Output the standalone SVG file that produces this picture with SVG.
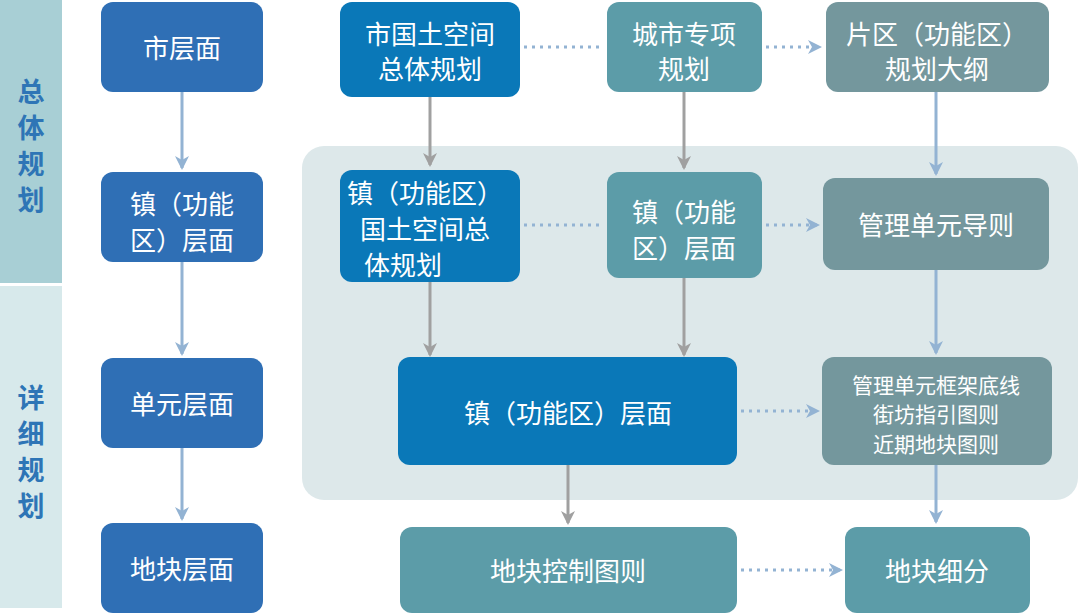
<svg xmlns="http://www.w3.org/2000/svg" width="1080" height="616" viewBox="0 0 1080 616">
<style>
text{font-family:"Noto Sans CJK SC","Noto Sans",sans-serif;fill:#fff;font-size:26px;text-anchor:middle}
.side{fill:#2e75b6;font-size:27px;font-weight:bold}
.b{fill:#2f6fb5}.c{fill:#0a78b8}.t{fill:#5c9ca8}.g{fill:#74979d}
.ga{stroke:#a0a0a0;stroke-width:3;fill:none}
.la{stroke:#93b3d3;stroke-width:3;fill:none}
.d{stroke:#93b3d3;stroke-width:3;stroke-dasharray:3 5;fill:none}
</style>
<defs>
<marker id="ml" markerWidth="14" markerHeight="14" refX="12" refY="7" orient="auto" markerUnits="userSpaceOnUse"><path d="M0,0L14,7L0,14L4,7Z" fill="#93b3d3"/></marker>
<marker id="mgg" markerWidth="14" markerHeight="14" refX="12" refY="7" orient="auto" markerUnits="userSpaceOnUse"><path d="M0,0L14,7L0,14L4,7Z" fill="#a0a0a0"/></marker>
</defs>
<rect width="1080" height="616" fill="#fff"/>
<g id="sidebar">
<rect x="0" y="0" width="62" height="283" fill="#a8cfd5"/>
<rect x="0" y="286" width="62" height="322" fill="#d7e9eb"/>
<text class="side" x="31" y="102">总</text><text class="side" x="31" y="138">体</text><text class="side" x="31" y="174">规</text><text class="side" x="31" y="210">划</text>
<text class="side" x="31" y="408">详</text><text class="side" x="31" y="444">细</text><text class="side" x="31" y="480">规</text><text class="side" x="31" y="516">划</text>
</g>
<rect id="panel" x="302" y="146" width="776" height="354" rx="22" fill="#dde8ea"/>
<g id="connectors">
<path class="la" d="M182 92V168" marker-end="url(#ml)"/>
<path class="la" d="M182 262V354" marker-end="url(#ml)"/>
<path class="la" d="M182 448V519" marker-end="url(#ml)"/>
<path class="ga" d="M430 97V165" marker-end="url(#mgg)"/>
<path class="ga" d="M684 92V168" marker-end="url(#mgg)"/>
<path class="ga" d="M430 282V355" marker-end="url(#mgg)"/>
<path class="ga" d="M684 278V355" marker-end="url(#mgg)"/>
<path class="ga" d="M568 465V523" marker-end="url(#mgg)"/>
<path class="la" d="M936 92V174" marker-end="url(#ml)"/>
<path class="la" d="M936 270V353" marker-end="url(#ml)"/>
<path class="la" d="M936 465V522" marker-end="url(#ml)"/>
<path class="d" d="M524 47H604"/>
<path class="d" d="M766 47H820" marker-end="url(#ml)"/>
<path class="d" d="M524 225H604"/>
<path class="d" d="M766 225H818" marker-end="url(#ml)"/>
<path class="d" d="M741 411H818" marker-end="url(#ml)"/>
<path class="d" d="M741 570H841" marker-end="url(#ml)"/>
</g>
<g id="n1"><rect class="b" x="101" y="2" width="162" height="90" rx="12"/><text x="182" y="58">市层面</text></g>
<g id="n2"><rect class="b" x="101" y="172" width="162" height="90" rx="12"/><text x="182" y="214">镇（功能</text><text x="182" y="250">区）层面</text></g>
<g id="n3"><rect class="b" x="101" y="358" width="162" height="90" rx="12"/><text x="182" y="414">单元层面</text></g>
<g id="n4"><rect class="b" x="101" y="523" width="162" height="90" rx="12"/><text x="182" y="579">地块层面</text></g>
<g id="n5"><rect class="c" x="340" y="2" width="180" height="95" rx="12"/><text x="430" y="44">市国土空间</text><text x="430" y="79">总体规划</text></g>
<g id="n6"><rect class="t" x="607" y="2" width="155" height="90" rx="12"/><text x="684" y="44">城市专项</text><text x="684" y="79">规划</text></g>
<g id="n7"><rect class="g" x="826" y="2" width="223" height="90" rx="12"/><text x="937" y="44">片区（功能区）</text><text x="937" y="79">规划大纲</text></g>
<g id="n8"><rect class="c" x="340" y="170" width="180" height="112" rx="12"/><text x="425" y="203">镇（功能区）</text><text x="425" y="239">国土空间总</text><text x="403" y="275">体规划</text></g>
<g id="n9"><rect class="t" x="607" y="172" width="155" height="106" rx="12"/><text x="684" y="222">镇（功能</text><text x="684" y="258">区）层面</text></g>
<g id="n10"><rect class="g" x="823" y="178" width="226" height="92" rx="12"/><text x="936" y="235">管理单元导则</text></g>
<g id="n11"><rect class="c" x="398" y="357" width="339" height="108" rx="12"/><text x="568" y="423">镇（功能区）层面</text></g>
<g id="n12"><rect class="g" x="822" y="357" width="230" height="108" rx="12"/><text x="936" y="393" style="font-size:21px">管理单元框架底线</text><text x="936" y="422" style="font-size:21px">街坊指引图则</text><text x="936" y="452" style="font-size:21px">近期地块图则</text></g>
<g id="n13"><rect class="t" x="400" y="527" width="337" height="86" rx="12"/><text x="568" y="581">地块控制图则</text></g>
<g id="n14"><rect class="t" x="845" y="527" width="185" height="86" rx="12"/><text x="937" y="581">地块细分</text></g>
</svg>
